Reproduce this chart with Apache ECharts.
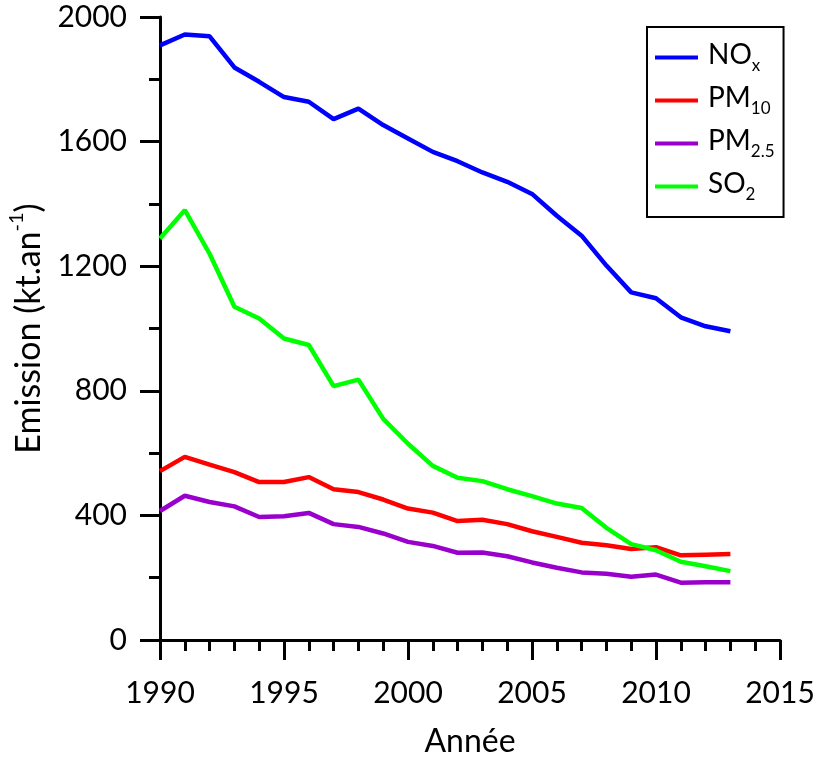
<!DOCTYPE html>
<html>
<head>
<meta charset="utf-8">
<script src="https://cdn.jsdelivr.net/npm/echarts@6/dist/echarts.min.js"></script>
<style>html,body{margin:0;padding:0;background:#fff}#c{width:820px;height:759px}</style>
</head>
<body>
<div id="c"></div>
<script>
const years = [1990,1991,1992,1993,1994,1995,1996,1997,1998,1999,2000,2001,2002,2003,2004,2005,2006,2007,2008,2009,2010,2011,2012,2013];
const nox  = [1909,1944,1938,1838,1792,1743,1728,1672,1706,1653,1610,1567,1537,1501,1471,1432,1362,1298,1202,1116,1097,1036,1007,991];
const pm10 = [542,588,563,539,507,507,523,484,475,451,422,409,382,386,372,349,331,312,304,292,298,272,274,276];
const pm25 = [414,463,443,429,395,397,408,372,363,342,315,302,280,281,269,249,232,217,213,203,210,184,185,185];
const so2  = [1289,1380,1240,1070,1032,968,947,815,836,710,630,559,521,510,484,462,438,424,360,308,288,251,237,221];
const seriesNames = ['NOx','PM10','PM2.5','SO2'];
const legendLabels = {'NOx':'{m|NO}{s|x}','PM10':'{m|PM}{s|10}','PM2.5':'{m|PM}{s|2.5}','SO2':'{m|SO}{s|2}'};
const colors = ['#0000FF','#FF0000','#9900CC','#00FF00'];
const values = [nox, pm10, pm25, so2];

const chart = echarts.init(document.getElementById('c'), null, {renderer:'canvas'});
const FONT = 'Lato';
chart.setOption({
  animation: false,
  backgroundColor: '#fff',
  grid: {left:160, right:40, top:17, bottom:119, containLabel: false, outerBoundsMode: 'none'},
  legend: {
    orient: 'vertical',
    left: 647, top: 27,
    padding: [14, 9, 14, 8],
    itemGap: 10,
    itemWidth: 43, itemHeight: 4,
    icon: 'rect',
    borderColor: '#000', borderWidth: 2,
    data: seriesNames,
    formatter: n => legendLabels[n],
    textStyle: {
      color:'#000', fontFamily: FONT, fontSize: 28,
      rich: {
        m: {fontFamily: FONT, fontSize: 28, color:'#000', lineHeight: 33, verticalAlign: 'top', padding: [0,0,0,5]},
        s: {fontFamily: FONT, fontSize: 17, color:'#000', verticalAlign: 'bottom'}
      }
    }
  },
  xAxis: {
    type: 'value', min: 1990, max: 2015, interval: 5,
    name: 'Année', nameLocation: 'middle', nameGap: 86,
    nameTextStyle: {fontFamily: FONT, fontSize: 32, color: '#000'},
    axisLine: {show: true, lineStyle: {color:'#000', width: 3}},
    axisTick: {show: true, length: 20, lineStyle: {color:'#000', width: 3}},
    minorTick: {show: true, splitNumber: 5, length: 11, lineStyle: {color:'#000', width: 3}},
    axisLabel: {fontFamily: FONT, fontSize: 30, color:'#000', margin: 38, formatter: v => String(v)},
    splitLine: {show: false}
  },
  yAxis: {
    type: 'value', min: 0, max: 2000, interval: 400,
    name: '{a|Emission (kt.an}{b|-1}{a|)}', nameLocation: 'middle', nameGap: 110, nameRotate: 90,
    nameTextStyle: {
      color:'#000', fontFamily: FONT, fontSize: 34,
      rich: {
        a: {fontFamily: FONT, fontSize: 34, color:'#000', lineHeight: 40, verticalAlign: 'bottom'},
        b: {fontFamily: FONT, fontSize: 20, color:'#000', verticalAlign: 'top'}
      }
    },
    axisLine: {show: true, lineStyle: {color:'#000', width: 3}},
    axisTick: {show: true, length: 20, lineStyle: {color:'#000', width: 3}},
    minorTick: {show: true, splitNumber: 2, length: 11, lineStyle: {color:'#000', width: 3}},
    axisLabel: {fontFamily: FONT, fontSize: 30, color:'#000', margin: 33, formatter: v => String(v)},
    splitLine: {show: false}
  },
  series: seriesNames.map((n, i) => ({
    name: n, type: 'line', showSymbol: false, symbol: 'none',
    color: colors[i],
    lineStyle: {color: colors[i], width: 4.5},
    data: years.map((y, k) => [y, values[i][k]])
  }))
});
</script>
</body>
</html>
